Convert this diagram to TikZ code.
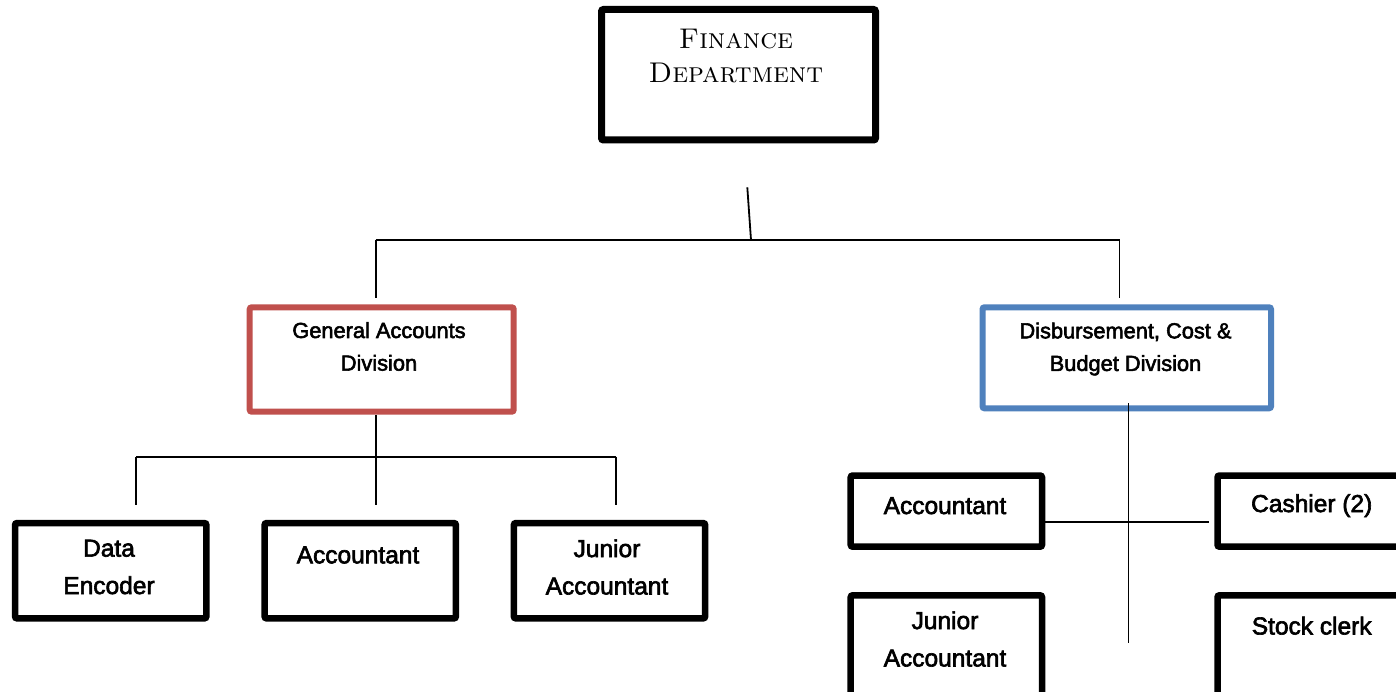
\documentclass[tikz,border=0pt]{standalone}
\usepackage{fontspec}
\newfontfamily\bodyfont{Liberation Sans}[FakeBold=2.5]
\definecolor{divred}{HTML}{C0504D}
\definecolor{divblue}{HTML}{4F81BD}
\begin{document}
\begin{tikzpicture}[x=1pt,y=-1pt,
  conn/.style={line width=1.8pt, draw=black},
  box/.style={draw=black, line width=6.5pt, rounded corners=2pt, inner sep=0pt, outer sep=0pt, fill=white, minimum width=191.3pt},
  divbox/.style={box, line width=6pt},
  titletxt/.style={align=center, inner sep=0pt, font=\fontsize{28.5}{34.4}\selectfont\rmfamily\scshape},
  divtxt/.style={align=center, inner sep=0pt, font=\fontsize{21.8}{32.6}\selectfont\bodyfont},
  jobtxt/.style={align=center, inner sep=0pt, font=\fontsize{24.5}{37.4}\selectfont\bodyfont}]
\useasboundingbox (0,0) rectangle (1396,692);
\clip (0,0) rectangle (1396,692);
\fill[white] (0,0) rectangle (1396,692);
% boxes
\node[box, line width=7pt, minimum width=274pt, minimum height=130.5pt] (fin) at (738.5,74.75) {};
\node[titletxt] (finT) at (736,56.3) {Finance\\Department};
\node[divbox, draw=divred, minimum width=264pt, minimum height=104.4pt] (gad) at (381.7,359.5) {};
\node[divtxt] (gadT) at (379,346.5) {General Accounts\\Division};
\node[divbox, draw=divblue, minimum width=288.5pt, minimum height=101pt] (dcb) at (1126.75,357.8) {};
\node[divtxt] (dcbT) at (1125.5,349) {Disbursement, Cost \&\\Budget Division};
\node[box, minimum height=95.3pt] (de) at (110.7,570.7) {};
\node[jobtxt] (deT) at (109,567) {Data\\Encoder};
\node[box, minimum height=95.3pt] (acc1) at (360.25,570.7) {};
\node[jobtxt] (acc1T) at (358,555) {Accountant};
\node[box, minimum height=95.3pt] (ja1) at (609.5,570.7) {};
\node[jobtxt] (ja1T) at (607,567) {Junior\\Accountant};
\node[box, minimum height=71.2pt] (acc2) at (946.35,511.1) {};
\node[jobtxt] (acc2T) at (945,505.7) {Accountant};
\node[box, minimum height=71.2pt] (cash) at (1313.15,511.1) {};
\node[jobtxt] (cashT) at (1311.7,505.7) {Cashier (2)};
\node[box, minimum height=110pt] (ja2) at (946.35,650.3) {};
\node[jobtxt] (ja2T) at (945,639) {Junior\\Accountant};
\node[box, minimum height=110pt] (stock) at (1313.15,650.3) {};
\node[jobtxt] (stockT) at (1311.7,625.7) {Stock clerk};
% connector points
\coordinate (topS) at (747.3,187.3);
\coordinate (topJ) at (751,240);
\coordinate (lJ) at (375.7,240);
\coordinate (rJ) at (1119.5,240);
\coordinate (gadUp) at (375.7,298.3);
\coordinate (dcbUp) at (1119.5,298.3);
\coordinate (gadDn) at (375.7,415);
\coordinate (gJ) at (375.7,456.7);
\coordinate (gL) at (136,456.7);
\coordinate (gR) at (616,456.7);
\coordinate (deUp) at (136,505);
\coordinate (acc1Up) at (375.7,505);
\coordinate (ja1Up) at (616,505);
\coordinate (dcbDn) at (1128.5,403.3);
\coordinate (dEnd) at (1128.5,642.7);
\coordinate (hL) at (1045,522.3);
\coordinate (hR) at (1209.3,522.3);
% connectors
\draw[conn] (topS) -- (topJ);
\draw[conn] (lJ) -- (rJ);
\draw[conn] (lJ) -- (gadUp);
\draw[conn] (rJ) -- (dcbUp);
\draw[conn] (gadDn) -- (gJ);
\draw[conn] (gL) -- (gR);
\draw[conn] (gL) -- (deUp);
\draw[conn] (gJ) -- (acc1Up);
\draw[conn] (gR) -- (ja1Up);
\draw[conn] (dcbDn) -- (dEnd);
\draw[conn] (hL) -- (hR);
\end{tikzpicture}
\end{document}
